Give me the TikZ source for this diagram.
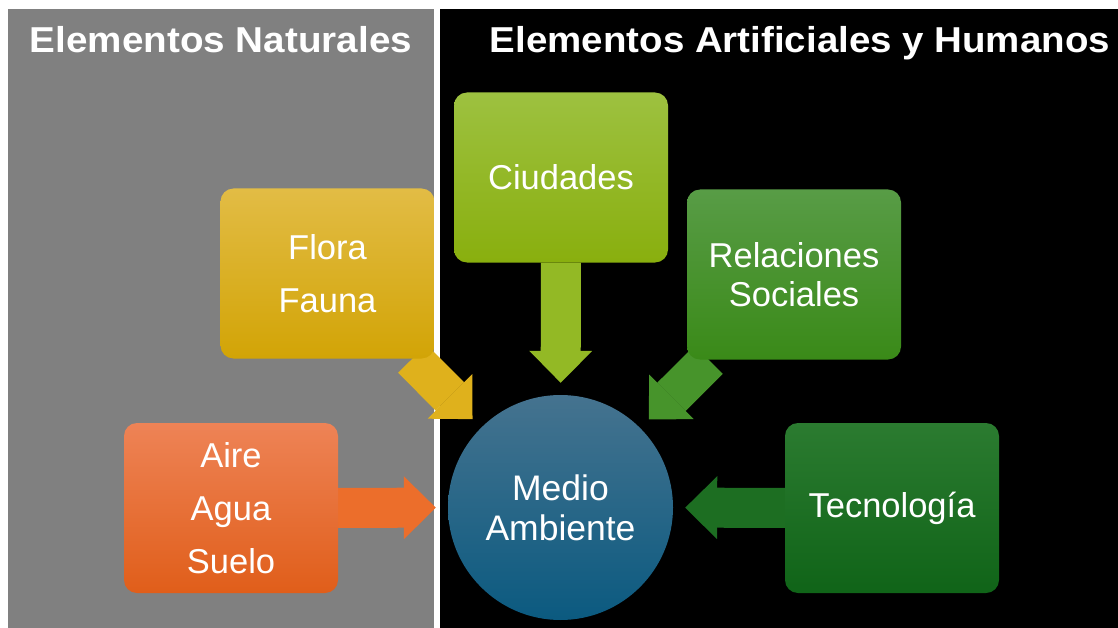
\documentclass[tikz,border=0pt]{standalone}
\usepackage{fontspec}
\usepackage{graphicx}
\setmainfont{Liberation Sans}
\usetikzlibrary{arrows.meta}
\pgfdeclarelayer{back}
\pgfdeclarelayer{arr}
\pgfsetlayers{back,arr,main}
\definecolor{panelgray}{HTML}{808080}
\definecolor{goldT}{HTML}{E2BC45}
\definecolor{goldB}{HTML}{D2A406}
\definecolor{goldA}{HTML}{DFB11C}
\definecolor{limeT}{HTML}{9DC140}
\definecolor{limeB}{HTML}{89AF0E}
\definecolor{limeA}{HTML}{93B925}
\definecolor{grnT}{HTML}{589C46}
\definecolor{grnB}{HTML}{3A8A18}
\definecolor{grnA}{HTML}{47942B}
\definecolor{orT}{HTML}{EE8356}
\definecolor{orB}{HTML}{E05E1A}
\definecolor{orA}{HTML}{EC6E2B}
\definecolor{dgT}{HTML}{2B7B30}
\definecolor{dgB}{HTML}{106418}
\definecolor{dgA}{HTML}{1D6E22}
\definecolor{blT}{HTML}{45738F}
\definecolor{blB}{HTML}{0B5A80}
\begin{document}
\begin{tikzpicture}[x=1pt,y=-1pt,
  box/.style={rounded corners=13pt, minimum width=214pt, minimum height=170pt,
    inner sep=0pt, text=white, align=center, font=\fontsize{34.5}{39}\selectfont},
  roundnode/.style={circle, minimum size=225pt, inner sep=0pt, text=white,
    align=center, font=\fontsize{35.5}{40}\selectfont, top color=blT, bottom color=blB},
  title/.style={text=white, anchor=base, inner sep=0pt, font=\fontsize{36}{40}\selectfont\bfseries},
  blockarrow/.style={line width=40pt,
    -{Triangle[width=63pt,length=32pt,line width=0pt]}, shorten >=12pt}
]
\useasboundingbox (0,0) rectangle (1118,628);
\begin{pgfonlayer}{back}
  \fill[white] (0,0) rectangle (1118,628);
  \fill[panelgray] (8,9) rectangle (434,628);
  \fill[black] (440,9) rectangle (1118,628);
\end{pgfonlayer}

\node[title] (tleft) at (221,53) {\resizebox{382pt}{\height}{Elementos Naturales}};
\node[title] (tright) at (800,53) {\resizebox{620pt}{\height}{Elementos Artificiales y Humanos}};

\node[box, top color=goldT, bottom color=goldB] (flora) at (327.5,273.5) {Flora\\[14pt]Fauna};
\node[box, top color=limeT, bottom color=limeB] (ciudades) at (561,177.5) {Ciudades};
\node[box, top color=grnT, bottom color=grnB] (relaciones) at (794,274.5) {Relaciones\\Sociales};
\node[box, top color=orT, bottom color=orB] (aire) at (231,508) {Aire\\[14pt]Agua\\[14pt]Suelo};
\node[box, top color=dgT, bottom color=dgB] (tecno) at (892,508) {Tecnología};
\node[roundnode] (medio) at (560.5,507.5) {Medio\\Ambiente};

\begin{pgfonlayer}{arr}
  \draw[blockarrow, draw=orA, fill=orA] (aire) -- (medio);
  \draw[blockarrow, draw=goldA, fill=goldA] (flora) -- (medio);
  \draw[blockarrow, draw=limeA, fill=limeA] (ciudades) -- (medio);
  \draw[blockarrow, draw=grnA, fill=grnA] (relaciones) -- (medio);
  \draw[blockarrow, draw=dgA, fill=dgA] (tecno) -- (medio);
\end{pgfonlayer}
\end{tikzpicture}
\end{document}
